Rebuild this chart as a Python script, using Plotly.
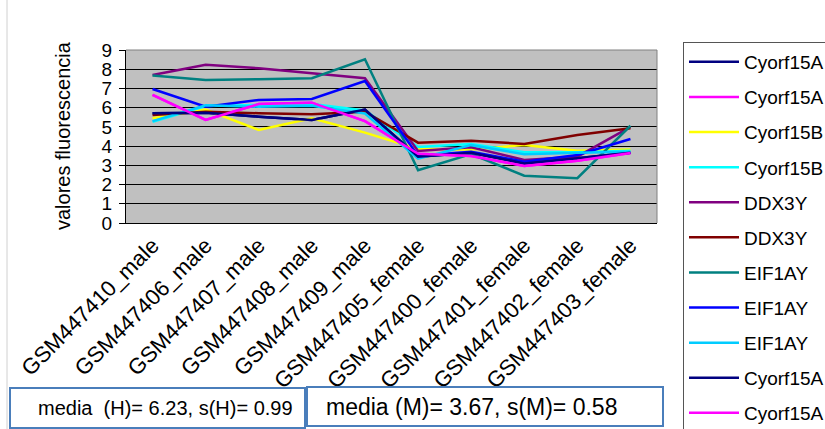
import plotly.graph_objects as go

# Samples on the x axis
categories = [
    "GSM447410_male", "GSM447406_male", "GSM447407_male", "GSM447408_male",
    "GSM447409_male", "GSM447405_female", "GSM447400_female",
    "GSM447401_female", "GSM447402_female", "GSM447403_female",
]

# Probe names, as listed in the legend
probe_names = [
    "Cyorf15A", "Cyorf15A", "Cyorf15B", "Cyorf15B", "DDX3Y", "DDX3Y",
    "EIF1AY", "EIF1AY", "EIF1AY", "Cyorf15A", "Cyorf15A",
]

# Fluorescence values per probe
cyorf15a_1 = [5.71, 5.74, 5.53, 5.36, 5.90, 3.45, 3.66, 3.10, 3.37, 3.66]
cyorf15a_2 = [6.66, 5.36, 6.19, 6.26, 5.30, 3.60, 3.49, 2.97, 3.24, 3.64]
cyorf15b_1 = [5.45, 5.90, 4.84, 5.45, 4.70, 3.85, 3.83, 4.06, 3.76, 3.83]
cyorf15b_2 = [5.27, 6.09, 6.14, 6.19, 5.85, 3.95, 4.11, 3.68, 3.68, 3.76]
ddx3y_1 = [7.70, 8.23, 8.05, 7.79, 7.53, 3.75, 3.94, 3.28, 3.45, 5.00]
ddx3y_2 = [5.62, 5.79, 5.71, 5.66, 5.79, 4.18, 4.28, 4.11, 4.58, 4.93]
eif1ay_1 = [7.67, 7.44, 7.48, 7.53, 8.52, 2.75, 3.59, 2.46, 2.33, 5.06]
eif1ay_2 = [6.97, 6.05, 6.40, 6.45, 7.39, 3.50, 3.71, 3.19, 3.54, 4.37]
eif1ay_3 = [5.30, 6.12, 6.05, 6.10, 5.70, 3.35, 4.05, 3.58, 3.65, 3.71]
cyorf15a_3 = [5.71, 5.74, 5.53, 5.36, 5.90, 3.45, 3.66, 3.10, 3.37, 3.66]
cyorf15a_4 = [6.66, 5.36, 6.19, 6.26, 5.30, 3.60, 3.49, 2.97, 3.24, 3.64]

series_values = [
    cyorf15a_1, cyorf15a_2, cyorf15b_1, cyorf15b_2, ddx3y_1, ddx3y_2,
    eif1ay_1, eif1ay_2, eif1ay_3, cyorf15a_3, cyorf15a_4,
]

y_ticks = list(range(0, 10))

summary_male = "media  (H)= 6.23, s(H)= 0.99"
summary_female = "media (M)= 3.67, s(M)= 0.58"

colors = [
    "#000080", "#FF00FF", "#FFFF00", "#00FFFF", "#800080", "#800000",
    "#008080", "#0000FF", "#00CCFF", "#000080", "#FF00FF",
]

W, H = 825, 429
ML, MR, MT, MB = 126, 168, 50, 206
PW, PH = W - ML - MR, H - MT - MB


def px_x(px):
    return (px - ML) / PW


def px_y(py):
    return (H - MB - py) / PH


fig = go.Figure()
for i, (name, vals, col) in enumerate(zip(probe_names, series_values, colors)):
    fig.add_trace(go.Scatter(
        x=categories, y=vals, name=name, mode="lines",
        line=dict(color=col, width=2.5),
        legendgroup=f"g{i}",
    ))

font_main = "Liberation Sans, Arial, sans-serif"

fig.update_layout(
    width=W, height=H,
    margin=dict(l=ML, r=MR, t=MT, b=MB, autoexpand=False),
    paper_bgcolor="white",
    plot_bgcolor="#C0C0C0",
    font=dict(family=font_main, color="black"),
    xaxis=dict(
        type="category", range=[-0.5, 9.5],
        tickangle=-45, tickfont=dict(size=22, color="black"),
        showgrid=False, showline=True, linecolor="black", linewidth=1,
        ticks="", automargin=False, zeroline=False,
    ),
    yaxis=dict(
        range=[0, 9], tickvals=y_ticks, ticktext=[str(v) for v in y_ticks],
        tickfont=dict(size=19, color="black"),
        showgrid=True, gridcolor="black", gridwidth=1,
        showline=True, linecolor="black", linewidth=1,
        ticks="outside", ticklen=6, tickcolor="black",
        ticklabelstandoff=3, automargin=False, zeroline=False,
    ),
    legend=dict(
        xref="container", yref="container",
        x=683 / W, y=1 - 42 / H, xanchor="left", yanchor="top",
        bordercolor="#555555", borderwidth=1, bgcolor="white",
        font=dict(size=19, color="black", family=font_main),
        itemwidth=50, tracegroupgap=7.4, traceorder="grouped",
        maxheight=900,
    ),
    showlegend=True,
)

shapes = [
    # plot area top and right border
    dict(type="line", xref="paper", yref="paper", x0=0, x1=1, y0=1, y1=1,
         line=dict(color="#808080", width=1)),
    dict(type="line", xref="paper", yref="paper", x0=1, x1=1, y0=0, y1=1,
         line=dict(color="#808080", width=1)),
    # chart area left edge
    dict(type="line", xref="paper", yref="paper", x0=px_x(7), x1=px_x(7),
         y0=px_y(0), y1=px_y(H), line=dict(color="#D0D0D0", width=1)),
    # summary boxes
    dict(type="rect", xref="paper", yref="paper",
         x0=px_x(10), x1=px_x(305), y0=px_y(428), y1=px_y(388),
         line=dict(color="#4A7EBB", width=2), fillcolor="white"),
    dict(type="rect", xref="paper", yref="paper",
         x0=px_x(307), x1=px_x(663), y0=px_y(426), y1=px_y(387),
         line=dict(color="#4A7EBB", width=2), fillcolor="white"),
]
fig.update_layout(shapes=shapes)

annotations = [
    dict(text="valores fluorescencia", xref="paper", yref="paper",
         x=px_x(63), y=px_y(136), textangle=-90, showarrow=False,
         font=dict(size=20, color="black"), xanchor="center", yanchor="middle"),
    dict(text=summary_male, xref="paper", yref="paper",
         x=px_x(36), y=px_y(408), showarrow=False, xanchor="left",
         yanchor="middle", font=dict(size=20, color="black")),
    dict(text=summary_female, xref="paper", yref="paper",
         x=px_x(324), y=px_y(407), showarrow=False, xanchor="left",
         yanchor="middle", font=dict(size=23, color="black")),
]
fig.update_layout(annotations=annotations)

fig.write_html("out.html")
